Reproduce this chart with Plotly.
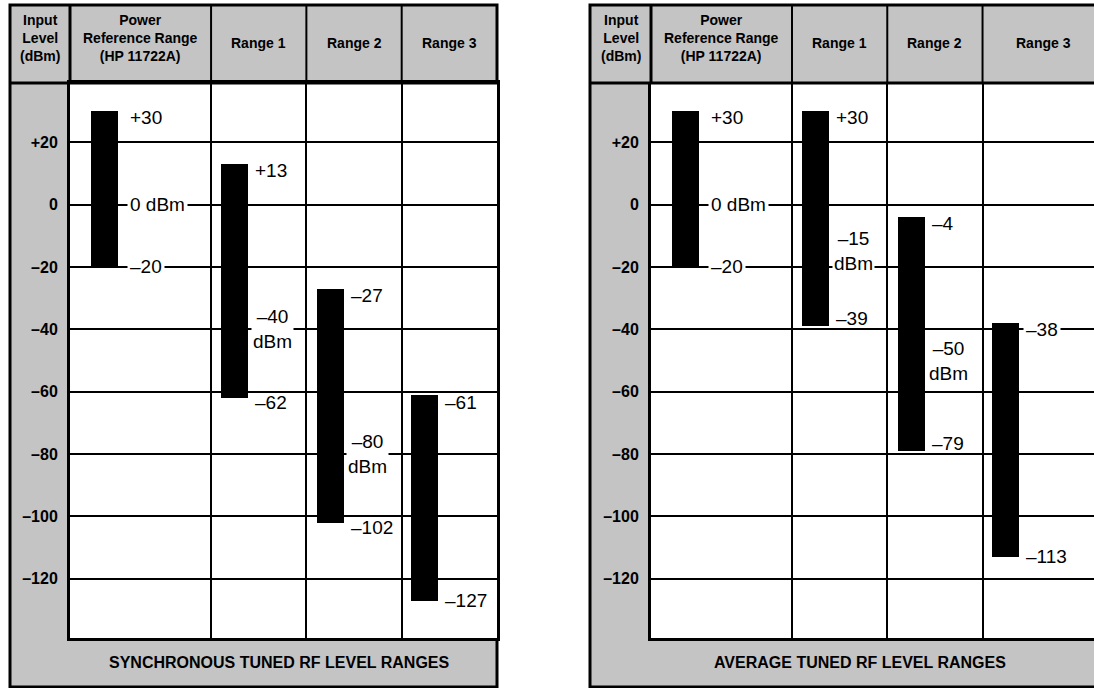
import plotly.graph_objects as go

# ---- DATA ----
columns = ["Power<br>Reference Range<br>(HP 11722A)", "Range 1", "Range 2", "Range 3"]
axis_title = "Input<br>Level<br>(dBm)"
tick_vals = [20, 0, -20, -40, -60, -80, -100, -120]
tick_text = ["+20", "0", "–20", "–40", "–60", "–80", "–100", "–120"]

sync_top = [30, 13, -27, -61]
sync_bottom = [-20, -62, -102, -127]
sync_mid = [0, -40, -80, None]
sync_title = "SYNCHRONOUS TUNED RF LEVEL RANGES"

avg_top = [30, 30, -4, -38]
avg_bottom = [-20, -39, -79, -113]
avg_mid = [0, -15, -50, None]
avg_title = "AVERAGE TUNED RF LEVEL RANGES"

# ---- LAYOUT CONSTANTS ----
W, H = 1094, 688
GRAY = "#c4c4c4"
FONT = "Liberation Sans, Arial, sans-serif"
Y_RANGE = [-139, 39]
BAR_X = [0.36, 1.73, 2.73, 3.72]
BAR_W = 0.283
TOP, HEAD_BOTTOM, PLOT_BOTTOM, BOTTOM = 5, 83, 638, 687


def px(x):
    return x / W


def py(y):
    return 1 - y / H


def fmt(v):
    if v > 0:
        return f"+{v}"
    if v == 0:
        return "0"
    return f"–{-v}"


def place(v):
    # keep a value label clear of the nearest grid line (or sit on it with a white box)
    g = 20 * round(v / 20)
    d = v - g
    if d == 0:
        return v, True
    if abs(d) < 3.5:
        return g + (3.5 if d > 0 else -3.5), False
    return v, False


panels = [
    dict(top=sync_top, bottom=sync_bottom, mid=sync_mid, title=sync_title,
         outer=(10, 497), plot_x=(70, 497), edges=[0, 1.48, 2.48, 3.48, 4.48],
         xr=[0, 4.48], foot_x=279, mirror=True, sfx=""),
    dict(top=avg_top, bottom=avg_bottom, mid=avg_mid, title=avg_title,
         outer=(590, 1120), plot_x=(651, 1094), edges=[0, 1.48, 2.48, 3.48, 4.75],
         xr=[0, 4.65], foot_x=860, mirror=False, sfx="2"),
]

fig = go.Figure()
shapes = []
annotations = []
layout_axes = {}
head_font = dict(family=FONT, size=14, color="black", weight="bold")
lab_font = dict(family=FONT, size=19, color="black")

for p in panels:
    xa, ya = "x" + p["sfx"], "y" + p["sfx"]
    heights = [t - b for t, b in zip(p["top"], p["bottom"])]
    fig.add_trace(go.Bar(
        x=BAR_X, y=heights, base=p["bottom"], width=BAR_W,
        marker=dict(color="black", line=dict(width=0)),
        xaxis=xa, yaxis=ya, hoverinfo="skip", showlegend=False,
    ))

    layout_axes["xaxis" + p["sfx"]] = dict(
        domain=[px(p["plot_x"][0]), px(p["plot_x"][1])], range=p["xr"],
        tickvals=p["edges"][1:4], showticklabels=False, ticks="",
        showgrid=True, gridcolor="black", gridwidth=2, zeroline=False,
        showline=True, linecolor="black", linewidth=3, mirror=p["mirror"],
        anchor=ya, fixedrange=True,
    )
    layout_axes["yaxis" + p["sfx"]] = dict(
        domain=[py(PLOT_BOTTOM), py(HEAD_BOTTOM)], range=Y_RANGE,
        tickvals=tick_vals, ticktext=tick_text, ticks="",
        tickfont=dict(family=FONT, size=16, color="black", weight="bold"),
        ticklabelstandoff=6,
        showgrid=True, gridcolor="black", gridwidth=2, zeroline=False,
        showline=True, linecolor="black", linewidth=3, mirror=p["mirror"],
        anchor=xa, fixedrange=True,
    )

    # gray frame with header, input-level column and footer; white plot field
    shapes.append(dict(type="rect", xref="paper", yref="paper", layer="below",
                       x0=px(p["outer"][0]), x1=px(p["outer"][1]),
                       y0=py(TOP), y1=py(BOTTOM),
                       fillcolor=GRAY, line=dict(color="black", width=3)))
    shapes.append(dict(type="rect", xref="paper", yref="paper", layer="below",
                       x0=px(p["plot_x"][0]), x1=px(p["plot_x"][1]),
                       y0=py(PLOT_BOTTOM), y1=py(HEAD_BOTTOM),
                       fillcolor="white", line=dict(width=0)))
    shapes.append(dict(type="line", xref="paper", yref="paper",
                       x0=px(p["outer"][0]), x1=px(p["outer"][1]),
                       y0=py(HEAD_BOTTOM), y1=py(HEAD_BOTTOM),
                       line=dict(color="black", width=3)))
    shapes.append(dict(type="line", xref="paper", yref="paper",
                       x0=px(p["plot_x"][0]), x1=px(p["plot_x"][0]),
                       y0=py(TOP), y1=py(HEAD_BOTTOM),
                       line=dict(color="black", width=3)))
    for e in p["edges"][1:4]:
        shapes.append(dict(type="line", xref=xa, yref="paper",
                           x0=e, x1=e, y0=py(TOP), y1=py(HEAD_BOTTOM),
                           line=dict(color="black", width=2)))

    # header texts
    annotations.append(dict(xref="paper", yref="paper", xanchor="center", yanchor="middle",
                            x=px((p["outer"][0] + p["plot_x"][0]) / 2), y=py(38),
                            text=axis_title, showarrow=False, font=head_font))
    for i, name in enumerate(columns):
        cx = (p["edges"][i] + p["edges"][i + 1]) / 2
        lines = name.count("<br>") + 1
        annotations.append(dict(xref=xa, yref="paper", xanchor="center", yanchor="middle",
                                x=cx, y=py(38 if lines > 1 else 43),
                                text=name, showarrow=False, font=head_font))

    # footer
    annotations.append(dict(xref="paper", yref="paper", xanchor="center", yanchor="middle",
                            x=px(p["foot_x"]), y=py(662),
                            text=p["title"], showarrow=False,
                            font=dict(family=FONT, size=16, color="black", weight="bold")))

    # value labels beside the bars
    for i in range(len(columns)):
        right = BAR_X[i] + BAR_W / 2
        gap = 9 if i == 0 else 4
        for v, off in ((p["top"][i], -2), (p["bottom"][i], 0)):
            yv, on_line = place(v + off)
            annotations.append(dict(xref=xa, yref=ya, x=right, y=yv,
                                    xanchor="left", yanchor="middle",
                                    xshift=gap, text=fmt(v), showarrow=False,
                                    bgcolor="white" if on_line else None,
                                    borderpad=2, font=lab_font))
        m = p["mid"][i]
        if m is None:
            continue
        if i == 0:
            annotations.append(dict(xref=xa, yref=ya, x=right, y=m,
                                    xanchor="left", yanchor="middle",
                                    xshift=gap, text=f"{fmt(m)} dBm", showarrow=False,
                                    bgcolor="white", borderpad=2, font=lab_font))
        else:
            annotations.append(dict(xref=xa, yref=ya, x=right, y=m,
                                    xanchor="center", yanchor="middle",
                                    xshift=24, text=f"{fmt(m)}<br>dBm", showarrow=False,
                                    bgcolor="white", borderpad=1, font=lab_font))

fig.update_layout(
    width=W, height=H,
    margin=dict(l=0, r=0, t=0, b=0),
    paper_bgcolor="white", plot_bgcolor="white",
    showlegend=False, bargap=0,
    shapes=shapes, annotations=annotations,
    font=dict(family=FONT, color="black"),
    **layout_axes,
)

fig.write_html("out.html", config={"displayModeBar": False},
               post_script="document.body.style.margin='0';")
